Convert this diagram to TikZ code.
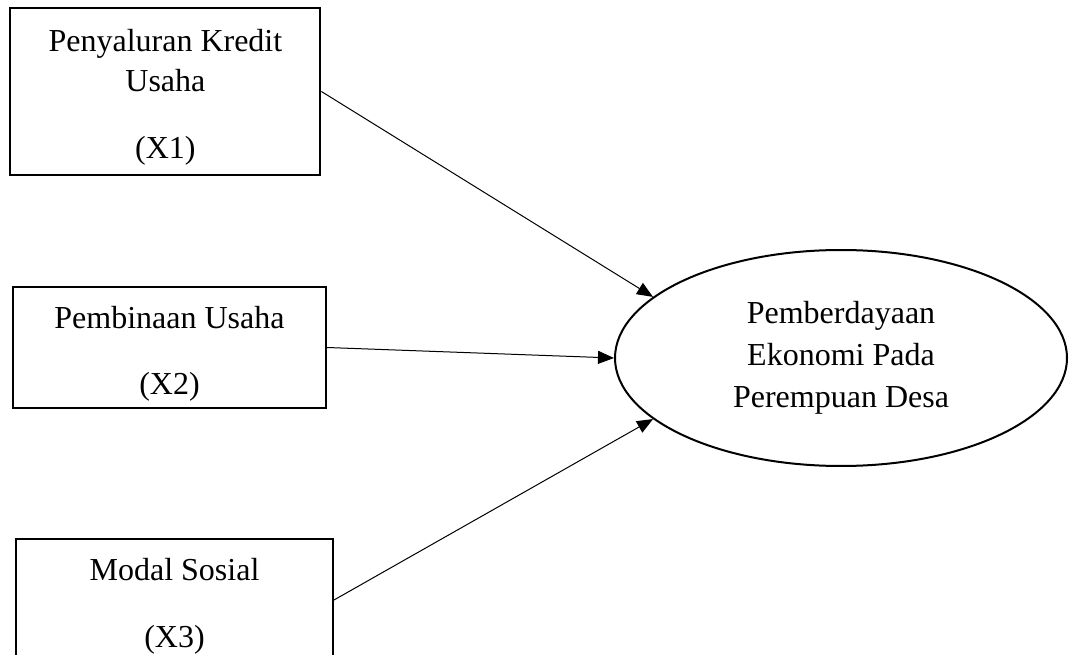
\documentclass[tikz,border=0pt]{standalone}
\usepackage{fontspec}
\setmainfont{Liberation Serif}
\usetikzlibrary{shapes, arrows.meta, positioning}

\newcommand{\toppad}{\rule{0pt}{34pt}}

\begin{document}
\begin{tikzpicture}[
    x=1pt, y=1pt,
    var/.style={rectangle, draw=black, line width=2pt, align=center, font=\fontsize{32}{40}\selectfont},
    construct/.style={ellipse, draw=black, line width=2pt, minimum width=452pt, minimum height=216pt, inner sep=0pt, align=center, font=\fontsize{32}{42}\selectfont},
    link/.style={-{Triangle[length=16pt, width=13pt]}, line width=1pt}
]
    \useasboundingbox (0,0) rectangle (1069,-655);

    % Variables
    \node[var, minimum width=310pt, minimum height=167pt] (x1) at (165.4,-91.5) {\toppad Penyaluran Kredit\\Usaha\\[27pt](X1)};
    \node[var, minimum width=313pt, minimum height=121pt] (x2) at (169.5,-347.5) {\toppad Pembinaan Usaha\\[26pt](X2)};
    \node[var, minimum width=317pt, minimum height=122pt] (x3) at (174.5,-600) {\toppad Modal Sosial\\[27pt](X3)};

    % Dependent variable
    \node[construct] (y) at (841,-358) {Pemberdayaan\\Ekonomi Pada\\Perempuan Desa};

    % Paths
    \draw[link] (x1.east) -- (y.162);
    \draw[link] (x2.east) -- (y.west);
    \draw[link] (x3.east) -- (y.198);

\end{tikzpicture}
\end{document}
